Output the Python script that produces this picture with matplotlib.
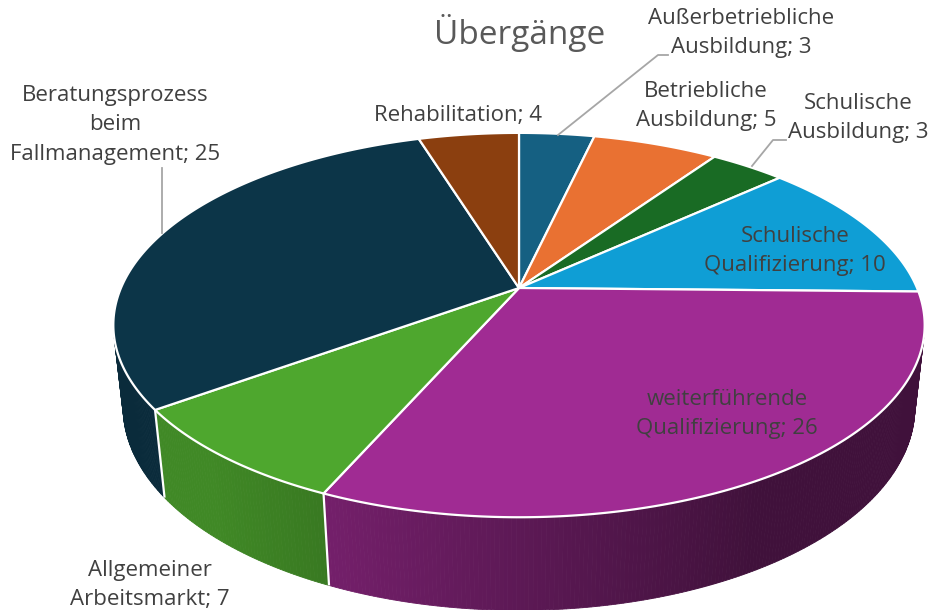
import numpy as np
import matplotlib
matplotlib.use("Agg")
import matplotlib.pyplot as plt
from matplotlib.patches import Polygon
from matplotlib.colors import to_rgb

# ---------------- data ----------------
title = "Übergänge"
categories = ["Außerbetriebliche\nAusbildung", "Betriebliche\nAusbildung", "Schulische\nAusbildung",
              "Schulische\nQualifizierung", "weiterführende\nQualifizierung", "Allgemeiner\nArbeitsmarkt",
              "Beratungsprozess\nbeim\nFallmanagement", "Rehabilitation"]
values = [3, 5, 3, 10, 26, 7, 25, 4]
colors = ["#156082", "#E97132", "#196B24", "#0F9ED5", "#A02B93", "#4EA72E", "#0C3548", "#8B3F0F"]

# label centre positions (pixels) and leader lines
label_pos = [(741, 33), (706, 106), (858, 118), (795, 251), (727, 414), (150, 585), (115, 125), (458, 115)]
leaders = {0: [(558, 135), (658, 55), (668, 55)],
           2: [(752, 166), (773, 140), (786, 140)],
           6: [(162, 233), (162, 168)]}

# ---------------- projection setup ----------------
W, H = 932, 610
cx, cy = 519, 288
A = np.deg2rad(27.7)
cosA, sinA = np.cos(A), np.sin(A)
Dcam = 4.59
F = 1827.0
hgt = 0.235


def proj(th, z):
    X = np.sin(th)
    Y = np.cos(th)
    Z = -hgt * z
    depth = Dcam + Y * cosA - Z * sinA
    sx = cx + F * X / depth
    sy = cy - F * (Y * sinA + Z * cosA) / depth
    return sx, sy


fig = plt.figure(figsize=(W / 100, H / 100), dpi=100)
ax = fig.add_axes([0, 0, 1, 1])
ax.set_xlim(0, W)
ax.set_ylim(H, 0)
ax.axis("off")

total = float(sum(values))
bounds = np.concatenate([[0], np.cumsum(values)]) / total * 2 * np.pi

# visible wall range
yth = -1.0 / (Dcam * cosA)
v0 = np.arccos(yth)
v1 = 2 * np.pi - v0


def shade(c, th):
    X = np.sin(th)
    f = np.clip(0.58 - 0.36 * X, 0.40, 0.82)
    r, g, b = to_rgb(c)
    return (r * f, g * f, b * f)


# walls
for i, c in enumerate(colors):
    a, b = bounds[i], bounds[i + 1]
    lo, hi = max(a, v0), min(b, v1)
    if hi <= lo:
        continue
    n = max(2, int(np.degrees(hi - lo) / 0.5))
    ts = np.linspace(lo, hi, n + 1)
    for t1, t2 in zip(ts[:-1], ts[1:]):
        p = [proj(t1, 0), proj(t2, 0), proj(t2, 1), proj(t1, 1)]
        col = shade(c, 0.5 * (t1 + t2))
        ax.add_patch(Polygon(p, closed=True, facecolor=col, edgecolor=col, lw=0.6, zorder=1))

# white separators on walls
for t in bounds[1:-1]:
    if v0 < t < v1:
        (x1, y1), (x2, y2) = proj(t, 0), proj(t, 1)
        ax.plot([x1, x2], [y1, y2], color="white", lw=1.6, zorder=2, solid_capstyle="butt")

# top faces
for i, c in enumerate(colors):
    a, b = bounds[i], bounds[i + 1]
    ts = np.linspace(a, b, max(3, int(np.degrees(b - a) * 2)))
    pts = [(cx, cy)] + [proj(t, 0) for t in ts]
    ax.add_patch(Polygon(pts, closed=True, facecolor=c, edgecolor="white", lw=1.6,
                         joinstyle="round", zorder=3))

# title
ax.text(520, 33, title, ha="center", va="center", fontsize=24, color="#595959",
        family="Open Sans", zorder=5)

# labels
for i, (cat, v) in enumerate(zip(categories, values)):
    x, y = label_pos[i]
    ax.text(x, y, f"{cat}; {v}", ha="center", va="center", fontsize=16, color="#404040",
            family="Open Sans", linespacing=1.52, zorder=5)

for i, pts in leaders.items():
    xs, ys = zip(*pts)
    ax.plot(xs, ys, color="#A6A6A6", lw=1.3, zorder=4)

fig.savefig("out.png", dpi=100, facecolor="white")
